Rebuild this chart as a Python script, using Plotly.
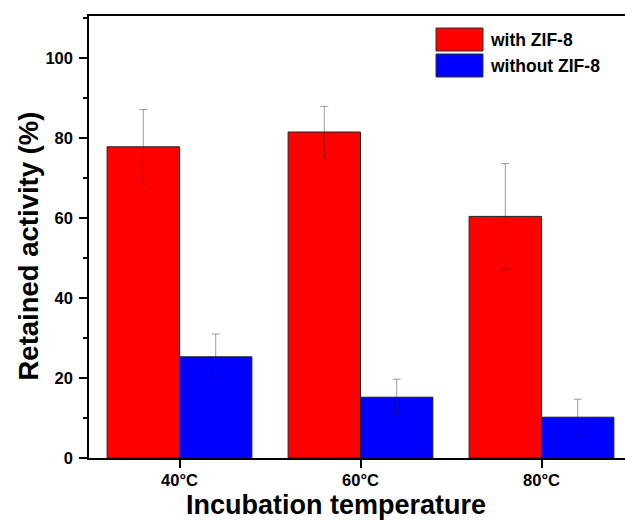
import plotly.graph_objects as go

categories = ["40°C", "60°C", "80°C"]
with_zif = [77.8, 81.5, 60.4]
with_zif_err = [9.3, 6.4, 13.2]
without_zif = [25.3, 15.2, 10.2]
without_zif_err = [5.7, 4.5, 4.5]
series_names = ["with ZIF-8", "without ZIF-8"]
y_ticks = [0, 20, 40, 60, 80, 100]

W, H = 625, 520
ML, MR, MT, MB = 89, 0, 16, 62
FONT = "Liberation Sans, Arial, sans-serif"
err_color = "rgba(40,40,40,0.45)"

fig = go.Figure()
fig.add_trace(go.Bar(
    x=categories, y=with_zif, name=series_names[0],
    marker=dict(color="#ff0000", line=dict(color="#222222", width=1)),
    error_y=dict(type="data", array=with_zif_err, visible=True,
                 color=err_color, thickness=1, width=4),
))
fig.add_trace(go.Bar(
    x=categories, y=without_zif, name=series_names[1],
    marker=dict(color="#0000ff", line=dict(color="#222222", width=1)),
    error_y=dict(type="data", array=without_zif_err, visible=True,
                 color=err_color, thickness=1, width=4),
))

pw = W - ML - MR
x_end = pw / 181.0 - 0.5

fig.update_layout(
    width=W, height=H,
    margin=dict(l=ML, r=MR, t=MT, b=MB, pad=0),
    paper_bgcolor="white", plot_bgcolor="white",
    barmode="group", bargap=0.2, bargroupgap=0,
    showlegend=False,
    font=dict(family=FONT, color="black"),
)
fig.update_xaxes(
    range=[-0.5, x_end], showline=True, linecolor="black", linewidth=1.5,
    mirror=True, ticks="outside", ticklen=8, tickwidth=1.5, tickcolor="black",
    tickfont=dict(family=FONT, size=16.5, weight="bold"),
    ticklabelstandoff=-2,
    showgrid=False, zeroline=False,
)
fig.update_yaxes(
    range=[0, 110.5], tickvals=y_ticks, showline=True, linecolor="black",
    linewidth=1.5, ticks="outside", ticklen=8, tickwidth=1.5, tickcolor="black",
    minor=dict(dtick=10, tick0=0, ticks="outside", ticklen=4, tickwidth=1.5,
               tickcolor="black", showgrid=False),
    tickfont=dict(family=FONT, size=16.5, weight="bold"),
    ticklabelstandoff=3,
    showgrid=False, zeroline=False,
)

def px_x(p):
    return (p - ML) / pw

def px_y(p):
    return 1 - (p - MT) / (H - MT - MB)

# axis titles
fig.add_annotation(text="Retained activity (%)", xref="paper", yref="paper",
                   x=px_x(28), y=px_y(246.5), textangle=-90, showarrow=False,
                   font=dict(family=FONT, size=27.5, weight="bold"),
                   xanchor="center", yanchor="middle")
fig.add_annotation(text="Incubation temperature", xref="paper", yref="paper",
                   x=px_x(336), y=px_y(505), showarrow=False,
                   font=dict(family=FONT, size=27, weight="bold"),
                   xanchor="center", yanchor="middle")

# custom legend
legend_colors = ["#ff0000", "#0000ff"]
for i, (nm, col) in enumerate(zip(series_names, legend_colors)):
    y0 = 28 + i * 26
    fig.add_shape(type="rect", xref="paper", yref="paper",
                  x0=px_x(436), x1=px_x(483), y0=px_y(y0), y1=px_y(y0 + 23),
                  fillcolor=col, line=dict(color="#333333", width=1))
    fig.add_annotation(text=nm, xref="paper", yref="paper",
                       x=px_x(488), y=px_y(y0 + 11.5), showarrow=False,
                       xanchor="left", yanchor="middle",
                       font=dict(family=FONT, size=17.5, weight="bold"))

fig.write_html("out.html")
